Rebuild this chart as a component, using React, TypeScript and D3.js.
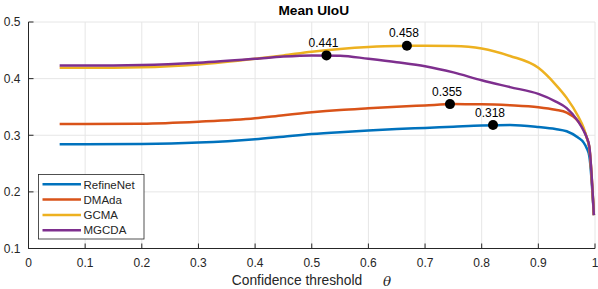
import React from "react";
import * as d3 from "d3";

const thresholds = [0.055, 0.1, 0.2, 0.3, 0.4, 0.45, 0.5, 0.55, 0.6, 0.65, 0.7, 0.75, 0.8, 0.85, 0.9, 0.93, 0.95, 0.97, 0.98, 0.985, 0.99, 0.998];
const refineNet = [0.284, 0.284, 0.2845, 0.287, 0.293, 0.2975, 0.302, 0.3055, 0.3085, 0.311, 0.313, 0.315, 0.317, 0.318, 0.3145, 0.311, 0.307, 0.296, 0.287, 0.278, 0.263, 0.159];
const dmAda = [0.32, 0.32, 0.3205, 0.324, 0.33, 0.3355, 0.3405, 0.3445, 0.3475, 0.3503, 0.3527, 0.355, 0.3548, 0.353, 0.3495, 0.345, 0.34, 0.325, 0.31, 0.297, 0.278, 0.159];
const gcma = [0.419, 0.419, 0.42, 0.425, 0.435, 0.441, 0.4475, 0.4525, 0.456, 0.4578, 0.458, 0.4575, 0.4533, 0.44, 0.419, 0.39, 0.366, 0.334, 0.313, 0.297, 0.278, 0.159];
const mgcda = [0.423, 0.423, 0.424, 0.428, 0.435, 0.439, 0.441, 0.4405, 0.435, 0.429, 0.422, 0.411, 0.397, 0.385, 0.373, 0.36, 0.348, 0.325, 0.308, 0.297, 0.28, 0.159];

const seriesNames = ["RefineNet", "DMAda", "GCMA", "MGCDA"];
const seriesValues = [refineNet, dmAda, gcma, mgcda];
const seriesColors = ["#0072BD", "#D95319", "#EDB120", "#7E2F8E"];

const peakX = [0.82, 0.744, 0.668, 0.526];
const peakY = [0.318, 0.355, 0.458, 0.441];
const peakLabels = ["0.318", "0.355", "0.458", "0.441"];

const xTicks = [0, 0.1, 0.2, 0.3, 0.4, 0.5, 0.6, 0.7, 0.8, 0.9, 1];
const yTicks = [0.1, 0.2, 0.3, 0.4, 0.5];

const W = 598, H = 289;
const L = 28.5, R = 595, T = 22, B = 248.5;
const FONT = "'Liberation Sans', Arial, sans-serif";
const AX = "#262626";

export default function App() {
  const x = d3.scaleLinear().domain([0, 1]).range([L, R]);
  const y = d3.scaleLinear().domain([0.1, 0.5]).range([B, T]);
  const line = d3
    .line<number>()
    .x((_, i) => x(thresholds[i]))
    .y((d) => y(d))
    .curve(d3.curveMonotoneX);

  return (
    <svg width={W} height={H} style={{ position: "absolute", left: 0, top: 0, background: "#fff" }} fontFamily={FONT}>
      <rect x={0} y={0} width={W} height={H} fill="#fff" />
      {xTicks.map((t) => (
        <line key={"gx" + t} x1={x(t)} x2={x(t)} y1={T} y2={B} stroke="#e6e6e6" strokeWidth={1} />
      ))}
      {yTicks.map((t) => (
        <line key={"gy" + t} x1={L} x2={R} y1={y(t)} y2={y(t)} stroke="#e6e6e6" strokeWidth={1} />
      ))}
      <line x1={L} x2={L} y1={T} y2={B} stroke={AX} strokeWidth={1} />
      <line x1={L} x2={R} y1={B} y2={B} stroke={AX} strokeWidth={1} />
      {xTicks.map((t) => (
        <g key={"xt" + t}>
          <line x1={x(t)} x2={x(t)} y1={B} y2={B - 5} stroke={AX} strokeWidth={1} />
          <text x={x(t)} y={267} textAnchor="middle" fontSize={12} fill={AX}>
            {String(t)}
          </text>
        </g>
      ))}
      {yTicks.map((t) => (
        <g key={"yt" + t}>
          <line x1={L} x2={L + 5} y1={y(t)} y2={y(t)} stroke={AX} strokeWidth={1} />
          <text x={20.5} y={y(t) + 4.3} textAnchor="end" fontSize={12} fill={AX}>
            {t.toFixed(1)}
          </text>
        </g>
      ))}
      {seriesValues.map((vals, i) => (
        <path key={seriesNames[i]} d={line(vals) || ""} fill="none" stroke={seriesColors[i]} strokeWidth={2.5} />
      ))}
      {peakX.map((px, i) => (
        <g key={"pk" + i}>
          <circle cx={x(px)} cy={y(peakY[i])} r={5} fill="#000" />
          <text x={x(px) - 3} y={y(peakY[i]) - 8.5} textAnchor="middle" fontSize={12} fill="#000">
            {peakLabels[i]}
          </text>
        </g>
      ))}
      <text x={(L + R) / 2 + 2} y={15} textAnchor="middle" fontSize={13.7} fontWeight="bold" fill="#000">
        Mean UIoU
      </text>
      <text x={297} y={285} textAnchor="middle" fontSize={13.8} fill={AX}>
        Confidence threshold
      </text>
      <text x={387} y={285.5} textAnchor="middle" fontSize={13.5} fontStyle="italic" fontFamily="'DejaVu Serif', serif" fill={AX}>
        θ
      </text>
      <rect x={38.5} y={174.5} width={105.5} height={64.5} fill="#fff" stroke={AX} strokeWidth={0.8} />
      {seriesNames.map((n, i) => (
        <g key={"lg" + n}>
          <line x1={42.5} x2={81} y1={184.3 + i * 15.3} y2={184.3 + i * 15.3} stroke={seriesColors[i]} strokeWidth={2.5} />
          <text x={83.5} y={184.3 + i * 15.3 + 4.2} fontSize={11.5} fill={AX}>
            {n}
          </text>
        </g>
      ))}
    </svg>
  );
}
